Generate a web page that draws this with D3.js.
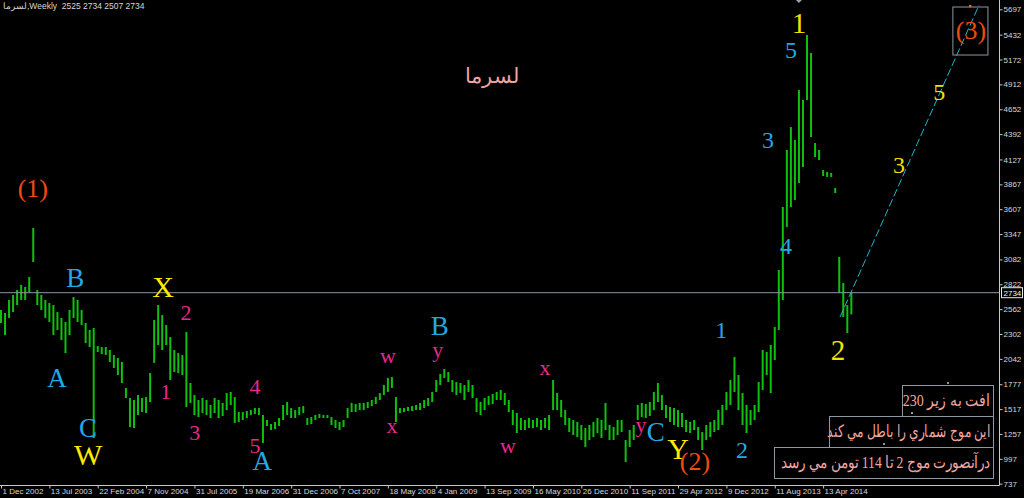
<!DOCTYPE html>
<html><head><meta charset="utf-8">
<script src="https://cdn.jsdelivr.net/npm/d3@7"></script>
<style>html,body{margin:0;background:#000;overflow:hidden}</style>
</head><body><svg id="c" width="1024" height="498"></svg>
<script>
// ---------- data ----------
const symbol = "لسرما";
const timeframe = "Weekly";
const lastOHLC = [2525, 2734, 2507, 2734];
const lastPrice = 2734;
const dateLabels = ["1 Dec 2002","13 Jul 2003","22 Feb 2004","7 Nov 2004","31 Jul 2005","19 Mar 2006","31 Dec 2006","7 Oct 2007","18 May 2008","4 Jan 2009","13 Sep 2009","16 May 2010","26 Dec 2010","11 Sep 2011","29 Apr 2012","9 Dec 2012","11 Aug 2013","13 Apr 2014"];
const priceTicks = [737,997,1257,1517,1777,2042,2302,2562,2822,3082,3347,3607,3867,4127,4392,4652,4912,5172,5432,5697];
const highs = [2553,2522,2658,2710,2762,2815,2794,2898,3410,2762,2710,2658,2626,2605,2532,2470,2428,2553,2689,2658,
2553,2417,2344,2365,2177,2166,2166,2135,2082,2051,2010,1738,1633,1612,1664,1633,1643,1894,2448,2605,
2500,2396,2270,2135,2103,2082,2323,1790,1664,1612,1633,1612,1560,1633,1612,1581,1685,1696,1643,1486,
1486,1497,1507,1528,1528,1455,1403,1361,1382,1424,1560,1591,1528,1507,1539,1549,1424,1434,1455,1466,
1455,1455,1434,1403,1382,1403,1528,1581,1570,1581,1581,1591,1612,1643,1685,1769,1842,1852,1643,1528,
1528,1539,1549,1560,1581,1612,1633,1696,1821,1884,1936,1905,1821,1800,1790,1769,1821,1769,1633,1591,
1633,1654,1675,1696,1717,1685,1612,1507,1476,1424,1403,1424,1403,1424,1403,1424,1455,1821,1685,1612,
1507,1424,1403,1382,1351,1319,1351,1382,1424,1403,1581,1351,1330,1403,1403,1194,1298,1351,1560,1581,
1570,1591,1696,1790,1664,1560,1539,1528,1507,1476,1403,1382,1403,1330,1277,1351,1382,1403,1507,1560,
1696,1821,2062,1873,1685,1560,1507,1560,1800,2135,2114,2187,2375,2971,3630,4226,4466,4330,4853,4749,
5428,5240,4299,4226,4017,3996,3986,3829,3107,2835,2605,2734];
const lows = [2417,2291,2470,2532,2605,2658,2658,2742,3055,2605,2553,2470,2428,2291,2344,2239,2103,2291,2470,2428,
2396,2208,2166,1215,2114,2093,2083,2010,1947,1873,1790,1633,1330,1319,1455,1486,1476,1591,2000,2187,
2135,2187,1821,1905,1894,1873,1538,1581,1455,1434,1476,1455,1424,1476,1424,1445,1507,1560,1372,1382,
1403,1424,1455,1466,1455,1163,1340,1298,1309,1340,1403,1455,1424,1424,1455,1476,1351,1361,1403,1424,
1424,1424,1351,1319,1298,1330,1424,1486,1486,1507,1507,1528,1549,1570,1612,1664,1696,1738,1382,1476,
1486,1497,1497,1507,1507,1528,1549,1591,1696,1769,1842,1800,1696,1664,1685,1612,1696,1633,1486,1455,
1507,1560,1570,1612,1612,1560,1486,1351,1267,1298,1298,1319,1319,1330,1298,1319,1298,1507,1507,1434,
1351,1277,1246,1225,1194,1121,1194,1225,1267,1215,1298,1194,1194,1246,1277,964,1121,1194,1403,1434,
1424,1445,1507,1591,1507,1424,1382,1351,1330,1330,1277,1267,1298,1194,1089,1194,1225,1277,1298,1351,
1507,1560,1696,1507,1351,1267,1351,1403,1486,1717,1873,1685,2030,2344,2658,3421,3630,3703,3881,4048,
4749,4362,4153,4121,3954,3944,3944,3776,2731,2480,2312,2507];
// projected trend line (bar index, price)
const trendStart = [208.2, 2480];
const trendEnd = [242.7, 5742];
// wave labels: text, bar index, price, role
const waveLabels = [
 ["(1)",7.9,3818,"cycle"],["B",18.4,2888,"blueL"],["A",13.9,1842,"blueL"],["C",21.6,1319,"blueL"],
 ["W",21.6,1037,"yellowL"],["X",40.2,2793,"yellowL"],
 ["2",45.9,2522,"pink"],["1",40.9,1696,"pink"],["3",48.1,1267,"pink"],["4",63.0,1748,"pink"],["5",63.0,1131,"pink"],
 ["A",64.8,974,"blueL"],
 ["w",96.0,2051,"pinkLow"],["x",97.0,1319,"pinkLow"],["B",108.9,2386,"blueL"],["y",108.4,2114,"pinkLow"],
 ["w",125.8,1110,"pinkLow"],["x",135.0,1926,"pinkLow"],["y",158.8,1330,"pinkLow"],
 ["C",162.5,1277,"blueL"],["Y",168.0,1100,"yellowL"],["(2)",172.2,964,"cycle"],
 ["1",178.7,2344,"blueN"],["2",183.9,1089,"blueN"],["3",190.3,4330,"blueN"],["4",194.8,3222,"blueN"],["5",196.0,5271,"blueN"],
 ["1",198.0,5554,"yellowN"],["2",207.7,2135,"yellowN"],["3",222.8,4069,"yellowS"],["5",232.8,4832,"yellowS"],
 ["(3)",240.7,5470,"cycle"]
];
const box3 = [236.2, 244.9, 5721, 5219]; // i0,i1,vTop,vBottom
const titleText = ["لسرما", 121.8, 4999];
const noteLines = ["افت به زير 230","اين موج شماري را باطل مي كند","درآنصورت موج 2 تا 114 تومن مي رسد"];

// ---------- styles ----------
const roles = {
 cycle:{c:"#f04a12",s:26,o:0.30}, blueL:{c:"#22a8e6",s:27,o:0.33}, blueN:{c:"#22a8e6",s:24,o:0.33},
 yellowL:{c:"#ffeb00",s:30,o:0.33}, yellowN:{c:"#f2e000",s:29,o:0.33}, yellowS:{c:"#f2e000",s:24,o:0.33},
 pink:{c:"#e8288a",s:22,o:0.33}, pinkLow:{c:"#e8288a",s:22,o:0.22}
};
const serif = "'Liberation Serif','Times New Roman',serif";
const narrow = "'Liberation Sans Narrow','Liberation Sans',Arial,sans-serif";

const svg = d3.select("#c");
const W = 1024, H = 498, plotR = 999.5, plotB = 485.5;
const x = d3.scaleLinear().domain([0, 248]).range([1, 1000.44]);
const y = d3.scaleLinear().domain([737, 5697]).range([483.7, 9.3]);

svg.append("rect").attr("width",W).attr("height",H).attr("fill","#000");
const defs = svg.append("defs");
defs.append("clipPath").attr("id","plot").append("rect")
  .attr("x",0).attr("y",0).attr("width",plotR).attr("height",plotB);

const plot = svg.append("g").attr("clip-path","url(#plot)");

// bars (high-low lines)
plot.append("g").selectAll("rect").data(highs).join("rect")
  .attr("x",(d,i)=>x(i)-1).attr("width",2)
  .attr("y",d=>y(d))
  .attr("height",(d,i)=>Math.max(1, y(lows[i]) - y(d)))
  .attr("fill","#0fc00f");

// last price line
plot.append("line").attr("x1",0).attr("x2",plotR).attr("y1",y(lastPrice)).attr("y2",y(lastPrice))
  .attr("stroke","#8c98a4").attr("stroke-width",1);

// trend line
plot.append("line").attr("x1",x(trendStart[0])).attr("y1",y(trendStart[1]))
  .attr("x2",x(trendEnd[0])).attr("y2",y(trendEnd[1]))
  .attr("stroke","#1fb8c8").attr("stroke-width",1).attr("stroke-dasharray","8,3");

// (3) box
plot.append("rect").attr("x",x(box3[0])).attr("y",y(box3[2]))
  .attr("width",x(box3[1])-x(box3[0])).attr("height",y(box3[3])-y(box3[2]))
  .attr("fill","none").attr("stroke","#8c98a4");
plot.append("circle").attr("cx",x(240.5)).attr("cy",6).attr("r",1.2).attr("fill","#f07030");
plot.append("path").attr("d",`M${x(198)-3},0 L${x(198)},3 L${x(198)+3},0 Z`).attr("fill","#9aa0a8");

// wave labels
plot.append("g").selectAll("text").data(waveLabels).join("text")
  .attr("x",d=>x(d[1])).attr("y",d=>y(d[2]) + roles[d[3]].s*roles[d[3]].o)
  .attr("text-anchor","middle")
  .attr("font-family",serif).attr("font-size",d=>roles[d[3]].s)
  .attr("fill",d=>roles[d[3]].c).text(d=>d[0]);

// symbol title
plot.append("text").attr("x",x(titleText[1])).attr("y",y(titleText[2])+7)
  .attr("text-anchor","middle").attr("font-family",serif).attr("font-size",21)
  .attr("fill","#f2a4a0").text(titleText[0]);

// note boxes (screen-anchored)
const notes = [[902,385,993,416,86],[829,416,993,447,160],[774,447,993,478,214]];
const ng = svg.append("g");
notes.forEach((b,k)=>{
  const t = ng.append("text").attr("x",0).attr("y",0)
    .attr("text-anchor","end").attr("font-family",serif).attr("font-size",17)
    .attr("fill","#f2a4a0").text(noteLines[k]);
  const w = t.node().getComputedTextLength();
  const sx = Math.min(1, b[4]/w);
  t.attr("transform",`translate(${b[2]-3},${b[3]-10}) scale(${sx},1)`);
  ng.append("rect").attr("x",b[0]+0.5).attr("y",b[1]+0.5).attr("width",b[2]-b[0]).attr("height",b[3]-b[1])
    .attr("fill","none").attr("stroke","#8c98a4");
});
[[948,383],[912,413],[884,444]].forEach(p=>ng.append("circle").attr("cx",p[0]).attr("cy",p[1]).attr("r",0.9).attr("fill","#d8d8d8"));

// axes
const axisColor = "#c8c8c8";
const ya = svg.append("g").attr("transform",`translate(${plotR},0)`)
  .call(d3.axisRight(y).tickValues(priceTicks).tickFormat(d3.format("d")).tickSize(3).tickPadding(1));
ya.select(".domain").remove();
ya.selectAll("line").attr("stroke",axisColor);
ya.selectAll("text").attr("fill","#d8d8d8").attr("font-family",narrow).attr("font-size",8);

const tickIdx = dateLabels.map((d,i)=>i*12);
const xa = svg.append("g").attr("transform",`translate(0,${plotB})`)
  .call(d3.axisBottom(x).tickValues(tickIdx).tickFormat((d,i)=>dateLabels[i]).tickSize(3).tickPadding(1));
xa.select(".domain").remove();
xa.selectAll("line").attr("stroke",axisColor);
xa.selectAll("text").attr("fill","#d8d8d8").attr("font-family",narrow).attr("font-size",8)
  .attr("text-anchor","start").attr("dx",1).attr("y",3);

svg.append("line").attr("x1",plotR).attr("x2",plotR).attr("y1",0).attr("y2",plotB).attr("stroke",axisColor);
svg.append("line").attr("x1",0).attr("x2",plotR).attr("y1",plotB).attr("y2",plotB).attr("stroke",axisColor);

// last price tag
const py = y(lastPrice);
svg.append("rect").attr("x",1001.5).attr("y",py-5).attr("width",21).attr("height",10)
  .attr("fill","#000").attr("stroke","#e8e8e8");
svg.append("text").attr("x",1003.5).attr("y",py+3).attr("font-family",narrow).attr("font-size",8)
  .attr("fill","#f0f0f0").text(lastPrice);

// header
svg.append("text").attr("x",3).attr("y",9).attr("font-family",narrow).attr("font-size",8.5)
  .attr("fill","#d8d8d8").style("white-space","pre")
  .text(symbol + "," + timeframe + "  " + lastOHLC.join(" "));
</script></body></html>
